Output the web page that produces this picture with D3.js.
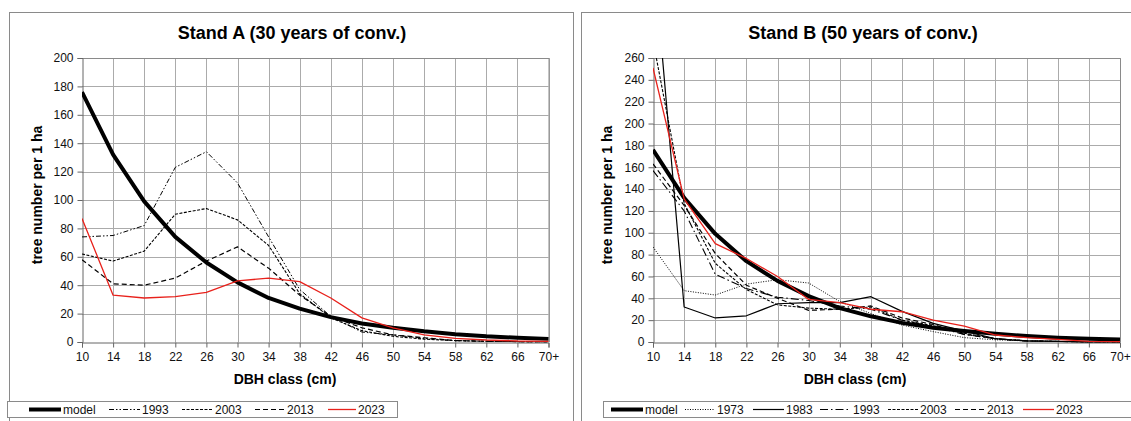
<!DOCTYPE html>
<html>
<head>
<meta charset="utf-8">
<script src="https://cdn.jsdelivr.net/npm/d3@7"></script>
<style>
  html, body { margin: 0; padding: 0; background: #fff; }
  svg { display: block; font-family: "Liberation Sans", Arial, sans-serif; }
</style>
</head>
<body>
<svg id="chart" width="1131" height="421"></svg>
<script>
// DBH classes (cm)
const dbhClasses = ["10","14","18","22","26","30","34","38","42","46","50","54","58","62","66","70+"];

// Target (model) distribution, shared by both stands
const modelValues = [176,132,99,74,56,42,31,23.5,17.5,13,10,7.5,5.5,4,3,2.2];

// Stand A – measured tree numbers per 1 ha
const standA1993 = [74,75,82,123,134,112,74,37,18,7,5,2.5,1,0.5,0.3,0.2];
const standA2003 = [62,57,64,90,94,86,68,34,17,8,4,2,1,0.5,0.3,0.2];
const standA2013 = [58,41,40,45,57,67,52,33,18,10,5,3,1,0.5,0.3,0.2];
const standA2023 = [87,33,31,32,35,43,45,42.5,31,17,10,5,2.6,1.4,0.7,0.5];

// Stand B – measured tree numbers per 1 ha
const standB1973 = [87,47,43,53,57,54,37,26,15.5,9.5,4,2,1,0.5,0.3,0.2];
const standB1983 = [360,32,22,24,35,36,36,41.5,28,17,10,3,1,0.5,0.2,0.1];
const standB1993 = [157,120,62,49,41,38,33,30,20,14,7,3,1,0.5,0.3,0.2];
const standB2003 = [276,127,72,48,34,31,30,32,20,15,8,3,1,0.5,0.3,0.2];
const standB2013 = [163,125,81,52,40,29,30,33,22,16,7,3,1,0.5,0.3,0.2];
const standB2023 = [251,131,90,76.5,60,39,36,30,27.7,20,14.6,6.4,4,2.4,0.5,0.3];

// Axis ticks
const ticksA = d3.range(0, 201, 20);
const ticksB = d3.range(0, 261, 20);

const svg = d3.select("#chart");

const styles = {
  model: { stroke: "#000", width: 4, dash: null },
  s1973: { stroke: "#000", width: 1, dash: "1,1.5" },
  s1983: { stroke: "#000", width: 1.2, dash: null },
  s1993A: { stroke: "#000", width: 1, dash: "5,2,1.5,2,1.5,2" },
  s1993B: { stroke: "#000", width: 1.1, dash: "8,3,1.5,3" },
  s2003: { stroke: "#000", width: 1.1, dash: "3,1.5" },
  s2013: { stroke: "#000", width: 1.2, dash: "5,3" },
  s2023: { stroke: "#e8211b", width: 1.3, dash: null }
};

function drawPanel(cfg) {
  const g = svg.append("g");

  // panel frame
  g.append("rect")
    .attr("x", cfg.frame[0] + 0.5).attr("y", cfg.frame[1] + 0.5)
    .attr("width", cfg.frame[2]).attr("height", cfg.frame[3])
    .attr("fill", "none").attr("stroke", "#8a8a8a").attr("stroke-width", 1);

  const x = d3.scalePoint().domain(dbhClasses).range([cfg.left, cfg.right]);
  const y = d3.scaleLinear().domain([0, cfg.yMax]).range([cfg.bottom, cfg.top]);

  // grid
  g.append("g").selectAll("line").data(cfg.ticks.slice(1)).join("line")
    .attr("x1", cfg.left).attr("x2", cfg.right)
    .attr("y1", d => Math.round(y(d)) + 0.5).attr("y2", d => Math.round(y(d)) + 0.5)
    .attr("stroke", "#ababab").attr("stroke-width", 1);
  g.append("g").selectAll("line").data(dbhClasses.slice(1)).join("line")
    .attr("x1", d => Math.round(x(d)) + 0.5).attr("x2", d => Math.round(x(d)) + 0.5)
    .attr("y1", cfg.top).attr("y2", cfg.bottom)
    .attr("stroke", "#ababab").attr("stroke-width", 1);

  // plot border (top/right)
  g.append("path")
    .attr("d", `M${cfg.left},${cfg.top + 0.5}H${cfg.right + 0.5}V${cfg.bottom}`)
    .attr("fill", "none").attr("stroke", "#8a8a8a").attr("stroke-width", 1);

  // axes
  const yAxis = d3.axisLeft(y).tickValues(cfg.ticks).tickSize(5).tickPadding(4);
  const yg = g.append("g").attr("transform", `translate(${Math.round(cfg.left) + 0.5},0)`).call(yAxis);
  const xAxis = d3.axisBottom(x).tickSize(5).tickPadding(5);
  const xg = g.append("g").attr("transform", `translate(0,${Math.round(cfg.bottom) + 0.5})`).call(xAxis);
  [yg, xg].forEach(a => {
    a.select(".domain").attr("stroke", "#666");
    a.selectAll(".tick line").attr("stroke", "#666");
    a.selectAll(".tick text").attr("font-size", 12).attr("fill", "#111")
      .attr("font-family", "Liberation Sans, Arial, sans-serif");
  });

  // clip
  const clipId = "clip" + cfg.id;
  svg.append("clipPath").attr("id", clipId).append("rect")
    .attr("x", cfg.left).attr("y", cfg.top)
    .attr("width", cfg.right - cfg.left + 2).attr("height", cfg.bottom - cfg.top + 2);

  const line = d3.line().x((d, i) => x(dbhClasses[i])).y(d => y(d));
  const lg = g.append("g").attr("clip-path", `url(#${clipId})`);
  cfg.series.forEach(s => {
    const st = styles[s.style];
    lg.append("path").datum(s.values)
      .attr("d", line)
      .attr("fill", "none")
      .attr("stroke", st.stroke)
      .attr("stroke-width", st.width)
      .attr("stroke-dasharray", st.dash)
      .attr("stroke-linejoin", "round");
  });

  // titles
  g.append("text").attr("x", cfg.titleX).attr("y", 39)
    .attr("text-anchor", "middle").attr("font-size", 18).attr("font-weight", "bold")
    .text(cfg.title);
  g.append("text").attr("x", cfg.xTitleX).attr("y", 384)
    .attr("text-anchor", "middle").attr("font-size", 14).attr("font-weight", "bold")
    .text("DBH class (cm)");
  g.append("text")
    .attr("transform", `translate(${cfg.yTitleX},${(cfg.top + cfg.bottom) / 2 - 5}) rotate(-90)`)
    .attr("text-anchor", "middle").attr("font-size", 14).attr("font-weight", "bold")
    .text("tree number per 1 ha");

  // legend
  const lgd = g.append("g");
  lgd.append("rect")
    .attr("x", cfg.legendBox[0] + 0.5).attr("y", 401.5)
    .attr("width", cfg.legendBox[1]).attr("height", 16)
    .attr("fill", "#fff").attr("stroke", "#8a8a8a");
  cfg.legend.forEach(item => {
    const st = styles[item.style];
    lgd.append("line")
      .attr("x1", item.x0).attr("x2", item.x1).attr("y1", 409.5).attr("y2", 409.5)
      .attr("stroke", st.stroke).attr("stroke-width", st.width)
      .attr("stroke-dasharray", st.dash);
    lgd.append("text").attr("x", item.x1 + 2).attr("y", 413.5)
      .attr("font-size", 12).attr("fill", "#111").text(item.label);
  });
}

drawPanel({
  id: "A",
  frame: [9, 12, 564, 430],
  left: 82, right: 548.5, top: 58, bottom: 342,
  yMax: 200, ticks: ticksA,
  title: "Stand A (30 years of conv.)", titleX: 292, xTitleX: 285, yTitleX: 42,
  series: [
    { style: "s1993A", values: standA1993 },
    { style: "s2003", values: standA2003 },
    { style: "s2013", values: standA2013 },
    { style: "model", values: modelValues },
    { style: "s2023", values: standA2023 }
  ],
  legendBox: [7, 390],
  legend: [
    { style: "model", x0: 29, x1: 61, label: "model" },
    { style: "s1993A", x0: 109, x1: 140, label: "1993" },
    { style: "s2003", x0: 182, x1: 213, label: "2003" },
    { style: "s2013", x0: 255, x1: 285, label: "2013" },
    { style: "s2023", x0: 328, x1: 356, label: "2023" }
  ]
});

drawPanel({
  id: "B",
  frame: [581, 12, 600, 430],
  left: 653, right: 1120, top: 58, bottom: 342,
  yMax: 260, ticks: ticksB,
  title: "Stand B (50 years of conv.)", titleX: 863, xTitleX: 855, yTitleX: 612,
  series: [
    { style: "s1973", values: standB1973 },
    { style: "s1983", values: standB1983 },
    { style: "s1993B", values: standB1993 },
    { style: "s2003", values: standB2003 },
    { style: "s2013", values: standB2013 },
    { style: "model", values: modelValues },
    { style: "s2023", values: standB2023 }
  ],
  legendBox: [603, 600],
  legend: [
    { style: "model", x0: 611, x1: 643, label: "model" },
    { style: "s1973", x0: 685, x1: 715, label: "1973" },
    { style: "s1983", x0: 753, x1: 784, label: "1983" },
    { style: "s1993B", x0: 820, x1: 851, label: "1993" },
    { style: "s2003", x0: 888, x1: 918, label: "2003" },
    { style: "s2013", x0: 955, x1: 985, label: "2013" },
    { style: "s2023", x0: 1023, x1: 1054, label: "2023" }
  ]
});
</script>
</body>
</html>
